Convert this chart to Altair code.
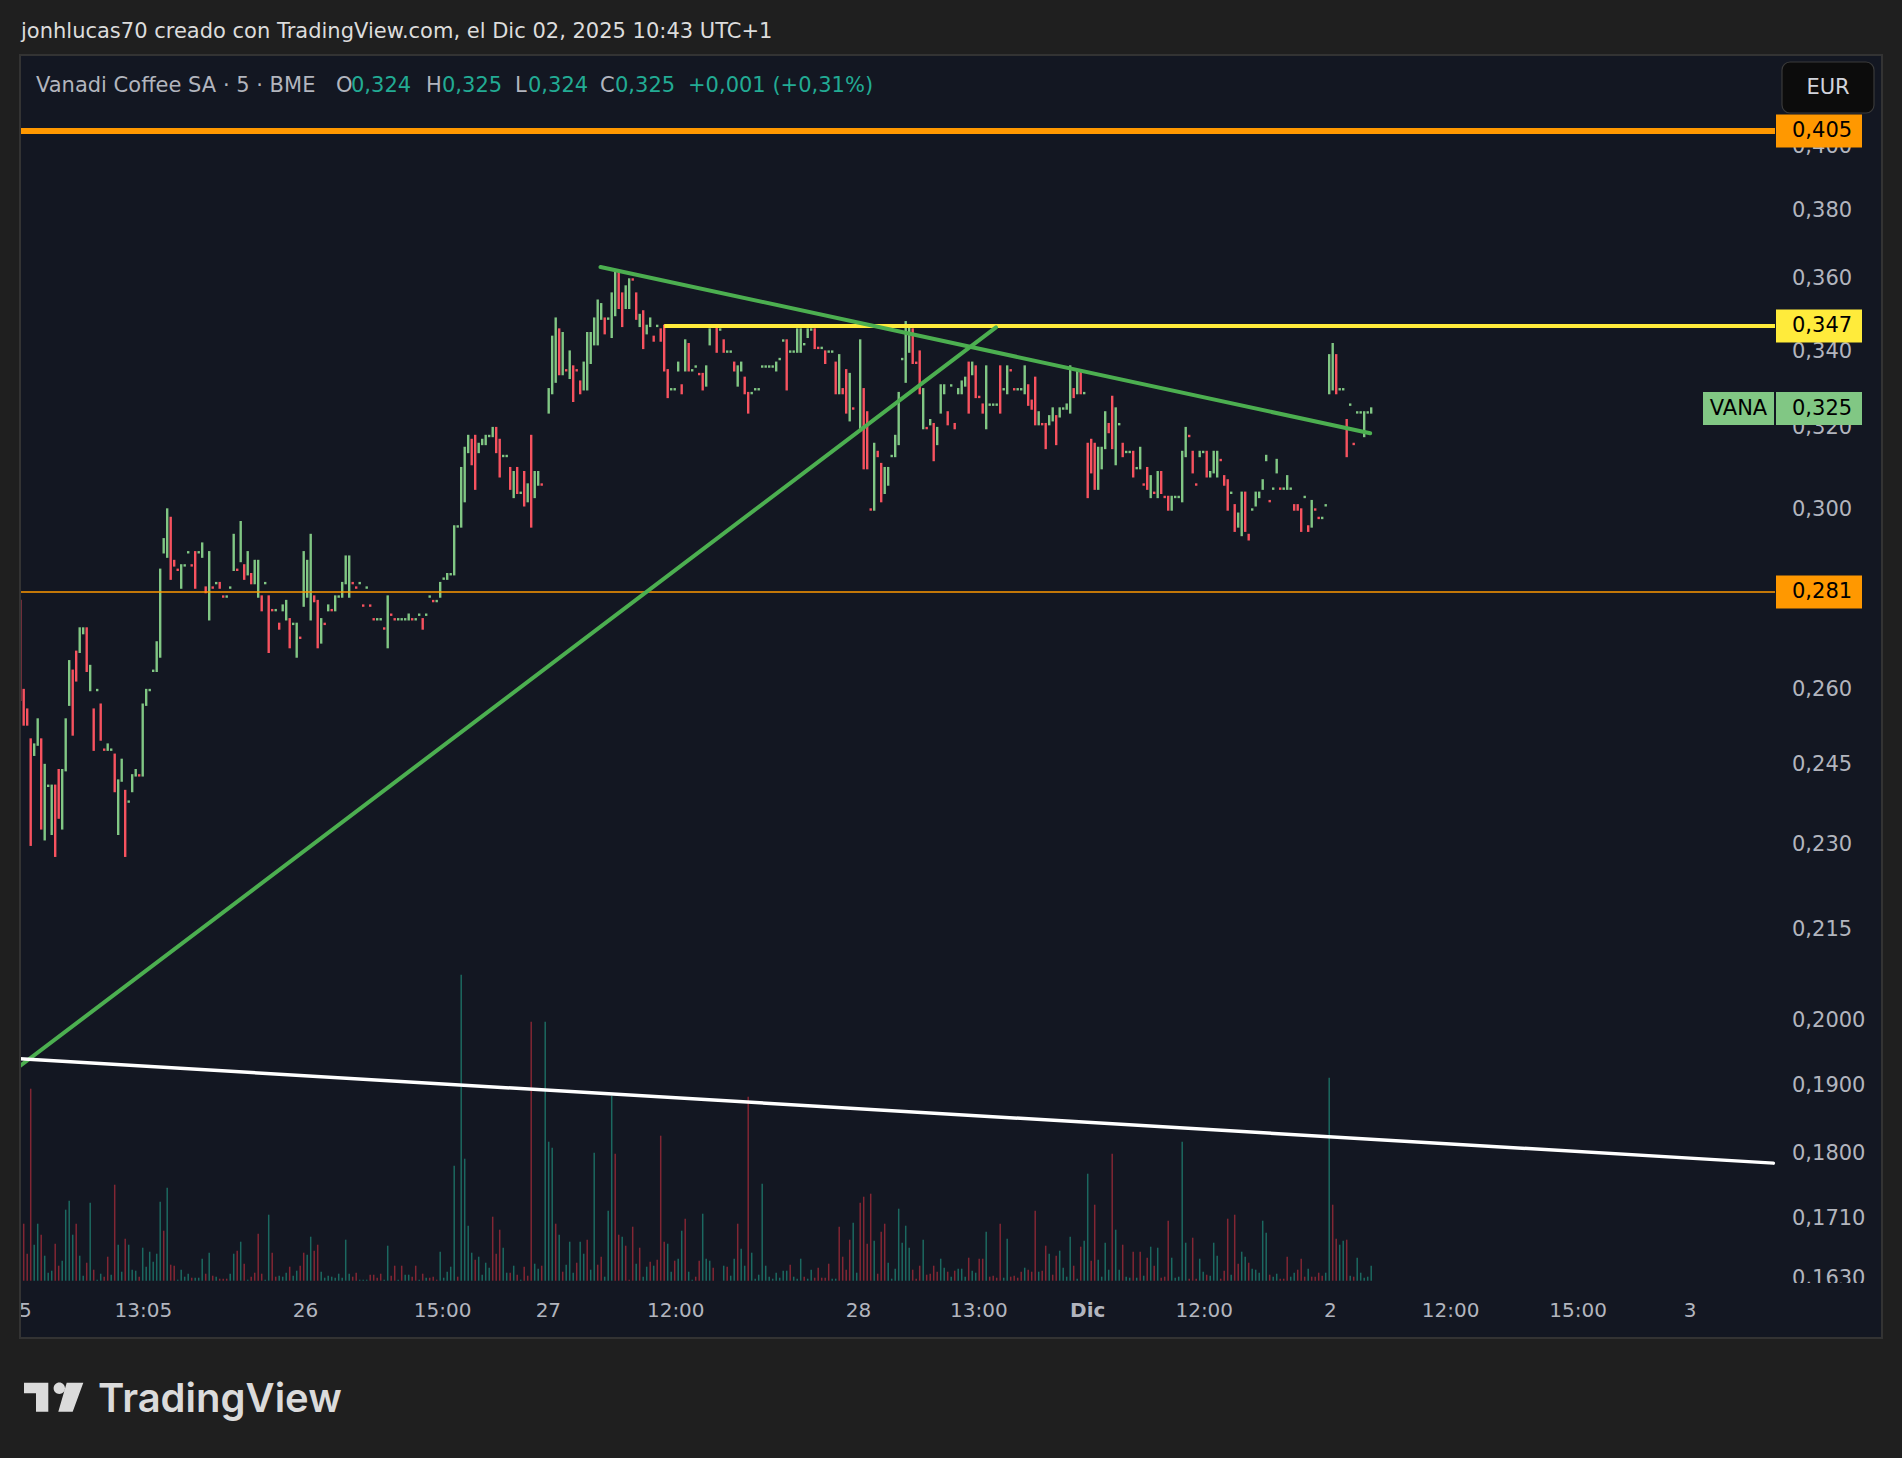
import altair as alt
import pandas as pd

# ---------------- data ----------------
# candles per session: (open, close, direction g=up / r=down)
nov25 = [
    (.279, .258, 'r'), (.260, .253, 'r'), (.256, .253, 'r'), (.250, .230, 'r'), (.247, .249, 'g'),
    (.249, .254, 'g'), (.250, .233, 'r'), (.231, .245, 'g'), (.241, .241, 'g'), (.232, .241, 'g'),
    (.241, .228, 'r'), (.244, .235, 'r'), (.233, .244, 'g'), (.244, .254, 'g'), (.257, .266, 'g'),
    (.264, .251, 'r'), (.268, .262, 'r'), (.268, .273, 'g'), (.272, .273, 'g'), (.273, .264, 'r'),
    (.260, .265, 'g'), (.256, .248, 'r'), (.260, .260, 'g'), (.257, .250, 'r'), (.248, .248, 'r'),
    (.248, .249, 'g'), (.248, .248, 'g'), (.247, .240, 'r'), (.232, .242, 'g'), (.242, .246, 'g'),
    (.240, .228, 'r'), (.238, .238, 'g'), (.240, .243, 'g'), (.243, .244, 'g'), (.243, .243, 'r'),
    (.243, .257, 'g'), (.257, .260, 'g'), (.260, .260, 'g'), (.264, .264, 'g'), (.264, .270, 'g'),
    (.267, .286, 'g'), (.290, .293, 'g'), (.289, .300, 'g'), (.298, .284, 'r'), (.288, .287, 'r'),
    (.286, .286, 'r'), (.282, .287, 'g'), (.287, .287, 'g'), (.290, .290, 'g'), (.287, .287, 'r'),
    (.290, .282, 'r'), (.290, .290, 'g'), (.289, .292, 'g'), (.282, .281, 'r'), (.275, .290, 'g'),
    (.282, .282, 'r'), (.283, .283, 'g'), (.283, .282, 'r'), (.280, .280, 'r'), (.280, .280, 'g'),
    (.282, .282, 'g'), (.286, .294, 'g'), (.286, .286, 'r'), (.288, .297, 'g'), (.287, .284, 'r'),
    (.285, .290, 'g'), (.285, .283, 'r'), (.283, .288, 'g'), (.280, .288, 'g'), (.280, .277, 'r'),
    (.283, .283, 'g'), (.280, .268, 'r'), (.277, .277, 'r'), (.277, .277, 'g'), (.274, .273, 'r'),
    (.277, .278, 'g'), (.275, .279, 'g'), (.275, .269, 'r'), (.274, .274, 'g'), (.267, .274, 'g'),
    (.271, .271, 'r'),
]
nov26 = [
    (.278, .290, 'g'), (.280, .288, 'g'), (.275, .294, 'g'), (.280, .279, 'r'), (.279, .269, 'r'),
    (.270, .275, 'g'), (.274, .274, 'r'), (.277, .278, 'g'), (.277, .277, 'r'), (.277, .280, 'g'),
    (.280, .280, 'g'), (.280, .283, 'g'), (.283, .289, 'g'), (.280, .289, 'g'), (.283, .283, 'r'),
    (.282, .282, 'r'), (.283, .283, 'g'), (.278, .278, 'r'), (.282, .282, 'g'), (.278, .278, 'r'),
    (.275, .275, 'r'), (.275, .275, 'g'), (.275, .275, 'g'), (.273, .273, 'r'), (.269, .280, 'g'),
    (.276, .276, 'r'), (.275, .275, 'r'), (.275, .275, 'g'), (.275, .275, 'g'), (.275, .275, 'g'),
    (.275, .276, 'g'), (.275, .275, 'r'), (.275, .275, 'g'), (.276, .276, 'g'), (.275, .273, 'r'),
    (.276, .276, 'g'), (.280, .280, 'g'), (.279, .279, 'r'), (.279, .279, 'g'), (.280, .283, 'g'),
    (.284, .284, 'g'), (.284, .285, 'g'), (.285, .285, 'g'), (.285, .296, 'g'), (.296, .296, 'g'),
    (.296, .310, 'g'), (.302, .315, 'g'), (.314, .318, 'g'), (.317, .311, 'r'), (.318, .305, 'r'),
    (.314, .316, 'g'), (.316, .317, 'g'), (.316, .318, 'g'), (.318, .318, 'g'), (.318, .320, 'g'),
    (.320, .314, 'r'), (.317, .308, 'r'), (.313, .313, 'g'), (.313, .313, 'g'), (.310, .305, 'r'),
    (.303, .309, 'g'), (.310, .304, 'r'), (.304, .304, 'g'), (.309, .301, 'r'), (.302, .306, 'g'),
    (.318, .296, 'r'), (.303, .309, 'g'), (.306, .309, 'g'), (.306, .306, 'r'),
]
nov27 = [
    (.324, .330, 'g'), (.329, .344, 'g'), (.332, .349, 'g'), (.346, .334, 'r'), (.334, .345, 'g'),
    (.335, .335, 'r'), (.333, .340, 'g'), (.336, .327, 'r'), (.335, .335, 'r'), (.332, .329, 'r'),
    (.330, .337, 'g'), (.330, .345, 'g'), (.337, .345, 'g'), (.342, .349, 'g'), (.342, .354, 'g'),
    (.349, .353, 'g'), (.349, .345, 'r'), (.349, .349, 'g'), (.344, .356, 'g'), (.350, .362, 'g'),
    (.362, .352, 'r'), (.356, .347, 'r'), (.352, .358, 'g'), (.352, .360, 'g'), (.360, .360, 'r'),
    (.356, .349, 'r'), (.347, .350, 'g'), (.351, .341, 'r'), (.345, .347, 'g'), (.347, .349, 'g'),
    (.344, .343, 'r'), (.347, .347, 'g'), (.346, .343, 'r'), (.347, .335, 'r'), (.335, .328, 'r'),
    (.330, .330, 'g'), (.330, .330, 'g'), (.335, .337, 'g'), (.331, .329, 'r'), (.335, .343, 'g'),
    (.342, .335, 'r'), (.335, .335, 'g'), (.336, .336, 'g'), (.334, .334, 'r'), (.334, .330, 'r'),
    (.331, .336, 'g'), (.342, .346, 'g'), (.347, .347, 'g'), (.347, .340, 'r'), (.346, .346, 'g'),
    (.343, .340, 'r'), (.340, .340, 'g'), (.340, .340, 'g'), (.337, .335, 'r'), (.331, .336, 'g'),
    (.335, .337, 'g'), (.333, .329, 'r'), (.329, .324, 'r'), (.329, .329, 'g'), (.330, .330, 'g'),
    (.330, .330, 'g'), (.336, .336, 'g'), (.336, .336, 'g'), (.336, .336, 'g'), (.336, .336, 'g'),
    (.335, .337, 'g'), (.338, .338, 'g'), (.343, .343, 'g'), (.343, .330, 'r'), (.340, .340, 'g'),
    (.340, .340, 'g'), (.340, .346, 'g'), (.340, .346, 'g'), (.342, .342, 'g'), (.344, .346, 'g'),
    (.346, .346, 'g'), (.346, .341, 'r'), (.341, .341, 'r'), (.341, .341, 'g'), (.340, .337, 'r'),
    (.340, .340, 'g'), (.340, .340, 'g'), (.337, .329, 'r'), (.329, .339, 'g'), (.330, .329, 'r'),
    (.335, .324, 'r'), (.322, .334, 'g'), (.325, .325, 'r'),
]
nov28 = [
    (.320, .343, 'g'), (.330, .310, 'r'), (.324, .310, 'r'), (.300, .300, 'r'), (.300, .316, 'g'),
    (.314, .313, 'r'), (.311, .302, 'r'), (.304, .310, 'g'), (.306, .310, 'g'), (.313, .313, 'g'),
    (.313, .318, 'g'), (.316, .329, 'g'), (.338, .338, 'g'), (.332, .348, 'g'), (.340, .347, 'g'),
    (.346, .337, 'r'), (.337, .337, 'r'), (.340, .329, 'r'), (.320, .330, 'g'), (.320, .320, 'r'),
    (.321, .322, 'g'), (.321, .312, 'r'), (.316, .320, 'g'), (.324, .331, 'g'), (.329, .331, 'g'),
    (.324, .321, 'r'), (.331, .331, 'g'), (.321, .320, 'r'), (.329, .330, 'g'), (.329, .332, 'g'),
    (.331, .333, 'g'), (.337, .324, 'r'), (.334, .337, 'g'), (.336, .328, 'r'), (.328, .328, 'r'),
    (.326, .324, 'r'), (.320, .336, 'g'), (.326, .326, 'g'), (.326, .326, 'g'), (.326, .326, 'g'),
    (.336, .324, 'r'), (.330, .330, 'g'), (.329, .336, 'g'), (.335, .335, 'r'), (.330, .330, 'r'),
    (.330, .330, 'g'), (.330, .330, 'g'), (.329, .336, 'g'), (.331, .326, 'r'), (.327, .325, 'r'),
    (.333, .321, 'r'), (.321, .324, 'g'), (.321, .321, 'r'), (.321, .315, 'r'), (.321, .323, 'g'),
    (.322, .325, 'g'), (.323, .316, 'r'), (.323, .325, 'g'), (.325, .325, 'g'), (.325, .326, 'g'),
    (.324, .336, 'g'), (.330, .328, 'r'), (.329, .335, 'g'), (.335, .329, 'r'), (.329, .329, 'g'),
]
dec01 = [
    (.316, .303, 'r'), (.317, .309, 'r'), (.316, .305, 'r'), (.305, .315, 'g'), (.310, .315, 'g'),
    (.315, .324, 'g'), (.321, .319, 'r'), (.328, .315, 'r'), (.311, .325, 'g'), (.321, .321, 'g'),
    (.316, .313, 'r'), (.314, .314, 'g'), (.314, .314, 'g'), (.314, .308, 'r'), (.310, .310, 'g'),
    (.310, .315, 'g'), (.306, .306, 'r'), (.310, .305, 'r'), (.303, .308, 'g'), (.304, .304, 'r'),
    (.303, .309, 'g'), (.309, .304, 'r'), (.303, .303, 'r'), (.303, .300, 'r'), (.300, .303, 'g'),
    (.303, .303, 'g'), (.303, .303, 'g'), (.302, .314, 'g'), (.313, .320, 'g'), (.318, .318, 'r'),
    (.314, .309, 'r'), (.306, .306, 'r'), (.313, .314, 'g'), (.314, .314, 'g'), (.314, .308, 'r'),
    (.308, .309, 'g'), (.309, .314, 'g'), (.308, .314, 'g'), (.312, .312, 'r'), (.308, .306, 'r'),
    (.307, .300, 'r'), (.304, .304, 'g'), (.301, .295, 'r'), (.296, .299, 'g'), (.294, .304, 'g'),
    (.304, .295, 'r'), (.294, .293, 'r'), (.300, .300, 'g'), (.301, .304, 'g'), (.303, .304, 'g'),
    (.305, .307, 'g'), (.312, .313, 'g'), (.302, .302, 'r'), (.305, .305, 'g'), (.309, .312, 'g'),
    (.305, .305, 'r'), (.305, .305, 'g'), (.305, .308, 'g'), (.305, .305, 'g'), (.301, .300, 'r'),
    (.301, .300, 'r'), (.300, .295, 'r'), (.303, .303, 'g'), (.296, .295, 'r'), (.296, .302, 'g'),
    (.300, .300, 'r'), (.298, .298, 'r'), (.298, .298, 'g'), (.301, .301, 'g'),
]
dec02 = [
    (.329, .339, 'g'), (.330, .342, 'g'), (.339, .329, 'r'), (.330, .330, 'g'), (.330, .330, 'g'),
    (.322, .313, 'r'), (.326, .326, 'g'), (.316, .316, 'r'), (.324, .324, 'g'), (.324, .324, 'g'),
    (.318, .324, 'g'), (.324, .324, 'g'), (.324, .325, 'g'),
]
sessions = [nov25, nov26, nov27, nov28, dec01, dec02]
session_first_bar = [0, 81, 151, 240, 305, 374]

# volume (thousand shares), direction
vol_a = [
    (57, 'r'), (27, 'r'), (192, 'r'), (36, 'g'), (57, 'g'), (46, 'r'), (25, 'g'), (8, 'g'), (10, 'g'), (37, 'r'),
    (15, 'r'), (20, 'g'), (71, 'g'), (80, 'g'), (46, 'g'), (57, 'r'), (25, 'g'), (5, 'g'), (18, 'r'), (78, 'g'),
    (11, 'r'), (1, 'g'), (7, 'g'), (4, 'r'), (24, 'r'), (6, 'g'), (96, 'r'), (36, 'g'), (9, 'g'), (42, 'r'),
    (36, 'g'), (11, 'g'), (10, 'g'), (4, 'r'), (33, 'g'), (14, 'g'), (29, 'g'), (19, 'g'), (27, 'g'), (79, 'g'),
    (50, 'r'), (93, 'g'), (16, 'r'), (15, 'r'), (1, 'g'), (11, 'g'), (4, 'g'), (7, 'g'), (3, 'r'), (3, 'g'),
    (3, 'g'), (22, 'g'), (7, 'r'), (28, 'g'), (5, 'r'), (4, 'g'), (2, 'r'), (2, 'r'), (2, 'r'), (7, 'g'),
    (27, 'g'), (30, 'r'), (39, 'g'), (17, 'r'), (1, 'g'), (4, 'r'), (8, 'r'), (47, 'r'), (7, 'r'), (1, 'g'),
    (66, 'g'), (28, 'r'), (4, 'r'), (5, 'g'), (4, 'g'), (8, 'g'), (14, 'r'), (5, 'g'), (10, 'g'), (15, 'r'),
    (28, 'r'), (26, 'g'), (44, 'g'), (30, 'r'), (36, 'r'), (9, 'g'), (3, 'g'), (5, 'g'), (4, 'g'), (3, 'g'),
    (7, 'g'), (3, 'g'), (41, 'g'), (7, 'g'), (4, 'r'), (8, 'r'), (1, 'g'), (1, 'g'), (1, 'g'), (6, 'r'),
    (6, 'r'), (3, 'r'), (7, 'r'), (1, 'g'), (35, 'g'), (5, 'r'), (15, 'r'), (1, 'g'), (15, 'r'), (6, 'g'),
    (6, 'g'), (4, 'r'), (15, 'r'), (1, 'g'), (7, 'r'), (3, 'g'), (3, 'r'), (4, 'r'), (1, 'r'), (29, 'g'),
    (3, 'g'), (9, 'g'), (14, 'g'), (115, 'g'), (4, 'r'), (306, 'g'), (122, 'g'), (55, 'g'), (28, 'g'), (21, 'r'),
    (24, 'g'), (6, 'g'), (18, 'g'), (13, 'g'), (64, 'r'), (27, 'r'), (51, 'r'), (33, 'g'), (8, 'g'), (8, 'r'),
    (15, 'g'), (6, 'r'), (1, 'g'), (14, 'r'), (5, 'r'), (259, 'r'), (17, 'g'), (12, 'g'), (15, 'r'), (259, 'g'),
    (139, 'g'), (133, 'g'), (57, 'r'), (46, 'g'), (9, 'r'), (16, 'g'), (39, 'g'), (8, 'g'), (18, 'r'), (39, 'g'),
    (27, 'g'), (41, 'r'), (11, 'g'), (128, 'g'), (16, 'r'), (24, 'r'), (4, 'g'), (70, 'g'), (185, 'g'), (127, 'r'),
    (46, 'r'), (44, 'g'), (35, 'r'), (1, 'r'), (54, 'r'), (17, 'g'), (33, 'r'), (4, 'g'), (14, 'g'), (19, 'r'),
    (15, 'g'), (21, 'r'), (145, 'r'), (39, 'r'), (37, 'g'), (9, 'g'), (20, 'r'), (22, 'g'), (50, 'g'), (62, 'r'),
    (9, 'g'), (1, 'g'), (4, 'r'), (20, 'r'), (67, 'g'), (22, 'g'), (20, 'g'), (13, 'r'),
]
vol_b = [
    (15, 'g'), (14, 'r'), (5, 'g'), (22, 'g'), (57, 'r'), (32, 'g'), (15, 'g'), (184, 'r'), (28, 'g'), (2, 'g'),
    (6, 'g'), (97, 'g'), (15, 'g'), (4, 'g'), (2, 'g'), (8, 'g'), (3, 'g'), (10, 'g'), (10, 'g'), (16, 'r'),
    (4, 'g'), (2, 'g'), (22, 'g'), (4, 'r'), (2, 'g'), (11, 'g'), (3, 'r'), (13, 'r'), (3, 'r'), (3, 'r'),
    (17, 'r'), (2, 'g'), (2, 'g'), (54, 'r'), (24, 'r'), (11, 'r'), (41, 'r'), (58, 'g'), (8, 'g'), (78, 'r'),
    (84, 'r'), (37, 'r'), (87, 'r'), (40, 'g'), (7, 'r'), (49, 'r'), (57, 'r'), (18, 'g'), (2, 'g'), (12, 'g'),
    (72, 'g'), (38, 'g'), (55, 'g'), (33, 'g'), (11, 'r'), (2, 'r'), (15, 'r'), (41, 'g'), (6, 'r'), (7, 'r'),
    (15, 'r'), (9, 'r'), (22, 'g'), (13, 'g'), (9, 'r'), (4, 'g'), (10, 'r'), (12, 'g'), (12, 'g'), (4, 'g'),
    (23, 'r'), (10, 'g'), (8, 'g'), (22, 'r'), (22, 'r'), (49, 'g'), (4, 'r'), (5, 'r'), (3, 'r'), (57, 'r'),
    (3, 'g'), (42, 'g'), (4, 'r'), (5, 'r'), (3, 'r'), (9, 'r'), (13, 'g'), (11, 'r'), (9, 'r'), (70, 'r'),
    (9, 'g'), (10, 'r'), (35, 'r'), (27, 'g'), (6, 'r'), (25, 'r'), (30, 'g'), (13, 'g'), (4, 'g'), (44, 'g'),
    (15, 'r'), (2, 'g'), (34, 'r'), (40, 'g'), (107, 'g'), (20, 'r'), (76, 'r'), (21, 'g'), (4, 'g'), (38, 'g'),
    (11, 'g'), (127, 'r'), (51, 'g'), (11, 'g'), (36, 'r'), (4, 'g'), (3, 'g'), (29, 'r'), (3, 'g'), (29, 'r'),
    (5, 'g'), (23, 'r'), (34, 'g'), (15, 'r'), (33, 'g'), (3, 'r'), (4, 'r'), (60, 'r'), (23, 'g'), (3, 'g'),
    (4, 'g'), (139, 'g'), (38, 'g'), (2, 'r'), (43, 'r'), (2, 'r'), (22, 'g'), (9, 'g'), (6, 'r'), (5, 'g'),
    (38, 'g'), (25, 'g'), (2, 'r'), (10, 'r'), (62, 'r'), (6, 'g'), (66, 'r'), (17, 'r'), (29, 'g'), (24, 'g'),
    (18, 'r'), (12, 'g'), (11, 'g'), (8, 'g'), (60, 'g'), (48, 'g'), (6, 'r'), (4, 'g'), (7, 'g'), (2, 'r'),
    (2, 'r'), (24, 'r'), (4, 'g'), (8, 'g'), (11, 'r'), (22, 'r'), (4, 'r'), (12, 'g'), (4, 'r'), (4, 'r'),
    (8, 'r'), (5, 'r'), (8, 'g'), (203, 'g'), (76, 'r'), (42, 'r'), (36, 'g'), (40, 'g'), (41, 'r'), (5, 'g'),
    (4, 'r'), (23, 'g'), (8, 'g'), (3, 'g'), (4, 'g'), (15, 'g'),
]
vol_first_bar = [1, 201]

price_ticks = [0.400, 0.380, 0.360, 0.340, 0.320, 0.300, 0.260, 0.245, 0.230, 0.215,
               0.200, 0.190, 0.180, 0.171, 0.163]
price_tick_labels = ["0,400", "0,380", "0,360", "0,340", "0,320", "0,300", "0,260", "0,245",
                     "0,230", "0,215", "0,2000", "0,1900", "0,1800", "0,1710", "0,1630"]

time_tick_bars = [1.5, 35.2, 81.5, 120.7, 150.9, 187.3, 239.5, 273.9, 305.0, 338.3,
                  374.3, 408.7, 445.1, 477.1]
time_tick_labels = ["5", "13:05", "26", "15:00", "27", "12:00", "28", "13:00", "Dic",
                    "12:00", "2", "12:00", "15:00", "3"]
month_labels = ["Dic"]

level_prices = [0.405, 0.347, 0.281]
level_first_bar = [-0.06, 184.0, -0.06]

trend_bar0 = [-0.06, 165.8, -0.06]
trend_price0 = [0.1930, 0.3636, 0.1941]
trend_bar1 = [278.8, 385.7, 500.9]
trend_price1 = [0.3466, 0.3187, 0.1787]

label_prices = [0.405, 0.347, 0.325, 0.281]
label_texts = ["0,405", "0,347", "0,325", "0,281"]
ticker = "VANA"

legend_parts = ["Vanadi Coffee SA · 5 · BME", "O", "0,324", "H", "0,325", "L", "0,324",
                "C", "0,325", "+0,001 (+0,31%)"]
header_text = "jonhlucas70 creado con TradingView.com, el Dic 02, 2025 10:43 UTC+1"

# ---------------- styles / layout ----------------
BG_OUT = "#1f1f1f"
BG = "#131722"
TXT = "#b2b5be"
UP, DN = "#81c784", "#f7525f"
VUP, VDN = "rgba(34,171,148,0.55)", "rgba(242,54,69,0.5)"
FONT = "DejaVu Sans"
FS = 20          # time axis
FS_P = 21        # price axis / labels
FS_H = 21        # header / legend
W, H = 1862, 1283           # plot area = whole panel (x 20..1882, y 55..1338)
PAD_L, PAD_T = 20, 55
BAR_PX = 3.5
X0 = -0.057
AXIS_BAR = X0 + 1755 / BAR_PX   # where the price axis begins


def px(xf):
    return xf - PAD_L


def py(yf):
    return yf - PAD_T


xs = alt.Scale(domain=[X0, X0 + W / BAR_PX], nice=False, zero=False)
ys = alt.Scale(type="log", domain=[0.15557, 0.43011], nice=False, zero=False)
vs = alt.Scale(domain=[-57.3, H - 57.3], nice=False, zero=False)

# ---------------- tables ----------------
rows = []
for start, sess in zip(session_first_bar, sessions):
    for k, (o, c, d) in enumerate(sess):
        rows.append({"bar": start + k, "open": o, "close": c, "col": UP if d == "g" else DN})
candles = pd.DataFrame(rows)

vrows = []
for start, seq in zip(vol_first_bar, [vol_a, vol_b]):
    for k, (v, d) in enumerate(seq):
        vrows.append({"bar": start + k, "vol": v, "col": VUP if d == "g" else VDN})
vols = pd.DataFrame(vrows)

level_style = [("#ff9800", 6), ("#ffeb3b", 4), ("#ff9800", 1.6)]
levels = pd.DataFrame({
    "price": level_prices, "b0": level_first_bar, "b1": [AXIS_BAR] * 3,
    "col": [s[0] for s in level_style], "w": [s[1] for s in level_style]})

trend_style = [("#4caf50", 4), ("#4caf50", 4), ("#ffffff", 3.5)]
trends = pd.DataFrame({
    "b0": trend_bar0, "p0": trend_price0, "b1": trend_bar1, "p1": trend_price1,
    "col": [s[0] for s in trend_style], "w": [s[1] for s in trend_style]})

ticks = pd.DataFrame({"price": price_ticks, "label": price_tick_labels})
box_colors = ["#ff9800", "#ffeb3b", "#81c784", "#ff9800"]
boxes = pd.DataFrame({"price": label_prices, "label": label_texts, "col": box_colors})
times = pd.DataFrame({"bar": time_tick_bars, "label": time_tick_labels})
times["bold"] = times["label"].isin(month_labels)

legend_x = [36, 336, 351, 426, 442, 515, 528, 600, 615, 688]
legend_cols = ["#b2b5be", "#b2b5be", "#22ab94", "#b2b5be", "#22ab94", "#b2b5be", "#22ab94",
               "#b2b5be", "#22ab94", "#22ab94"]
legend = pd.DataFrame({"t": legend_parts, "x": [px(v) for v in legend_x], "col": legend_cols})

one = pd.DataFrame({"a": [0]})

# ---------------- layers ----------------
vol_layer = alt.Chart(vols).mark_rule(strokeWidth=1.5, clip=True).encode(
    x=alt.X("bar:Q", scale=xs, axis=None),
    y=alt.Y("vol:Q", scale=vs, axis=None),
    y2=alt.datum(0),
    color=alt.Color("col:N", scale=None),
)

candle_layer = alt.Chart(candles).mark_rule(strokeWidth=2.4, strokeCap="square", clip=True).encode(
    x=alt.X("bar:Q", scale=xs, axis=None),
    y=alt.Y("open:Q", scale=ys, axis=None),
    y2="close:Q",
    color=alt.Color("col:N", scale=None),
)

level_layer = alt.Chart(levels).mark_rule(clip=True).encode(
    x=alt.X("b0:Q", scale=xs, axis=None), x2="b1:Q",
    y=alt.Y("price:Q", scale=ys, axis=None),
    color=alt.Color("col:N", scale=None),
    strokeWidth=alt.StrokeWidth("w:Q", scale=None),
)

trend_layer = alt.Chart(trends).mark_rule(clip=True, strokeCap="round").encode(
    x=alt.X("b0:Q", scale=xs, axis=None), x2="b1:Q",
    y=alt.Y("p0:Q", scale=ys, axis=None), y2="p1:Q",
    color=alt.Color("col:N", scale=None),
    strokeWidth=alt.StrokeWidth("w:Q", scale=None),
)

tick_layer = alt.Chart(ticks).mark_text(
    align="left", baseline="middle", font=FONT, fontSize=FS_P, color=TXT).encode(
    x=alt.value(px(1792)), y=alt.Y("price:Q", scale=ys, axis=None), text="label:N")

box_layer = alt.Chart(boxes).mark_point(
    shape="M-1,-0.384L1,-0.384L1,0.384L-1,0.384Z", size=86 * 86, filled=True,
    opacity=1, strokeWidth=0).encode(
    x=alt.value(px(1819)), y=alt.Y("price:Q", scale=ys, axis=None),
    color=alt.Color("col:N", scale=None))

box_text = alt.Chart(boxes).mark_text(
    align="left", baseline="middle", font=FONT, fontSize=FS_P, color="#000000").encode(
    x=alt.value(px(1792)), y=alt.Y("price:Q", scale=ys, axis=None), text="label:N")

vana_df = pd.DataFrame({"price": [label_prices[2]], "t": [ticker]})
vana_box = alt.Chart(vana_df).mark_point(
    shape="M-1,-0.465L1,-0.465L1,0.465L-1,0.465Z", size=71 * 71, filled=True,
    opacity=1, strokeWidth=0, color="#81c784").encode(
    x=alt.value(px(1738.5)), y=alt.Y("price:Q", scale=ys, axis=None))
vana_text = alt.Chart(vana_df).mark_text(
    align="center", baseline="middle", font=FONT, fontSize=FS_P, color="#000000").encode(
    x=alt.value(px(1738.5)), y=alt.Y("price:Q", scale=ys, axis=None), text="t:N")

cover = alt.Chart(one).mark_rect(color=BG).encode(
    x=alt.value(1), x2=alt.value(W - 1), y=alt.value(py(1283)), y2=alt.value(H - 1))

time_layer = alt.Chart(times).transform_filter("!datum.bold").mark_text(
    align="center", baseline="middle", font=FONT, fontSize=FS, color=TXT).encode(
    x=alt.X("bar:Q", scale=xs, axis=None), y=alt.value(py(1311)), text="label:N")
time_bold = alt.Chart(times).transform_filter("datum.bold").mark_text(
    align="center", baseline="middle", font=FONT, fontSize=FS, fontWeight="bold",
    color=TXT).encode(
    x=alt.X("bar:Q", scale=xs, axis=None), y=alt.value(py(1311)), text="label:N")

legend_layer = alt.Chart(legend).mark_text(
    align="left", baseline="alphabetic", font=FONT, fontSize=FS_H).encode(
    x=alt.X("x:Q", scale=None), y=alt.value(py(92)), text="t:N",
    color=alt.Color("col:N", scale=None))

header = alt.Chart(pd.DataFrame({"t": [header_text]})).mark_text(
    align="left", baseline="alphabetic", font=FONT, fontSize=FS_H, color="#dcdcdc").encode(
    x=alt.value(px(21)), y=alt.value(py(38)), text="t:N")

eur_box = alt.Chart(one).mark_rect(
    fill="#0c0c0c", stroke="#3a3a3a", strokeWidth=1.2, cornerRadius=8).encode(
    x=alt.value(px(1782)), x2=alt.value(px(1874)), y=alt.value(py(62)), y2=alt.value(py(113)))
eur_text = alt.Chart(pd.DataFrame({"t": ["EUR"]})).mark_text(
    align="center", baseline="middle", font=FONT, fontSize=FS_P, color="#d1d4dc").encode(
    x=alt.value(px(1828)), y=alt.value(py(88)), text="t:N")

logo_path = ("M-1,-0.493L-0.19,-0.493L-0.19,0.473L-0.6,0.473L-0.6,-0.14L-1,-0.14Z "
             "M-0.013,-0.307a0.19,0.19 0 1 0 0.38,0a0.19,0.19 0 1 0 -0.38,0Z "
             "M0.423,-0.493L0.977,-0.493L0.623,0.473L0.143,0.473Z")
logo_icon = alt.Chart(one).mark_point(
    shape=logo_path, size=3600, filled=True, opacity=1, strokeWidth=0, color="#dbdbdb").encode(
    x=alt.value(px(54)), y=alt.value(py(1397.5)))
logo_text = alt.Chart(pd.DataFrame({"t": ["TradingView"]})).mark_text(
    align="left", baseline="alphabetic", font="Inter", fontSize=40, fontWeight=600,
    color="#dbdbdb").encode(
    x=alt.value(px(98)), y=alt.value(py(1412)), text="t:N")

border = alt.Chart(one).mark_rect(fillOpacity=0, stroke="#333333", strokeWidth=2).encode(
    x=alt.value(0), x2=alt.value(W), y=alt.value(0), y2=alt.value(H))

chart = alt.layer(
    vol_layer, candle_layer, level_layer, trend_layer, tick_layer,
    box_layer, box_text, vana_box, vana_text, cover, time_layer, time_bold,
    legend_layer, header, eur_box, eur_text, logo_icon, logo_text, border,
).resolve_scale(x="independent", y="independent", color="independent", strokeWidth="independent"
).properties(
    width=W, height=H, autosize="none",
    padding={"left": PAD_L, "top": PAD_T, "right": 20, "bottom": 120},
    background=BG_OUT,
).configure_view(fill=BG, stroke=None)

chart.save("out.html", embed_options={"renderer": "svg", "actions": False})
